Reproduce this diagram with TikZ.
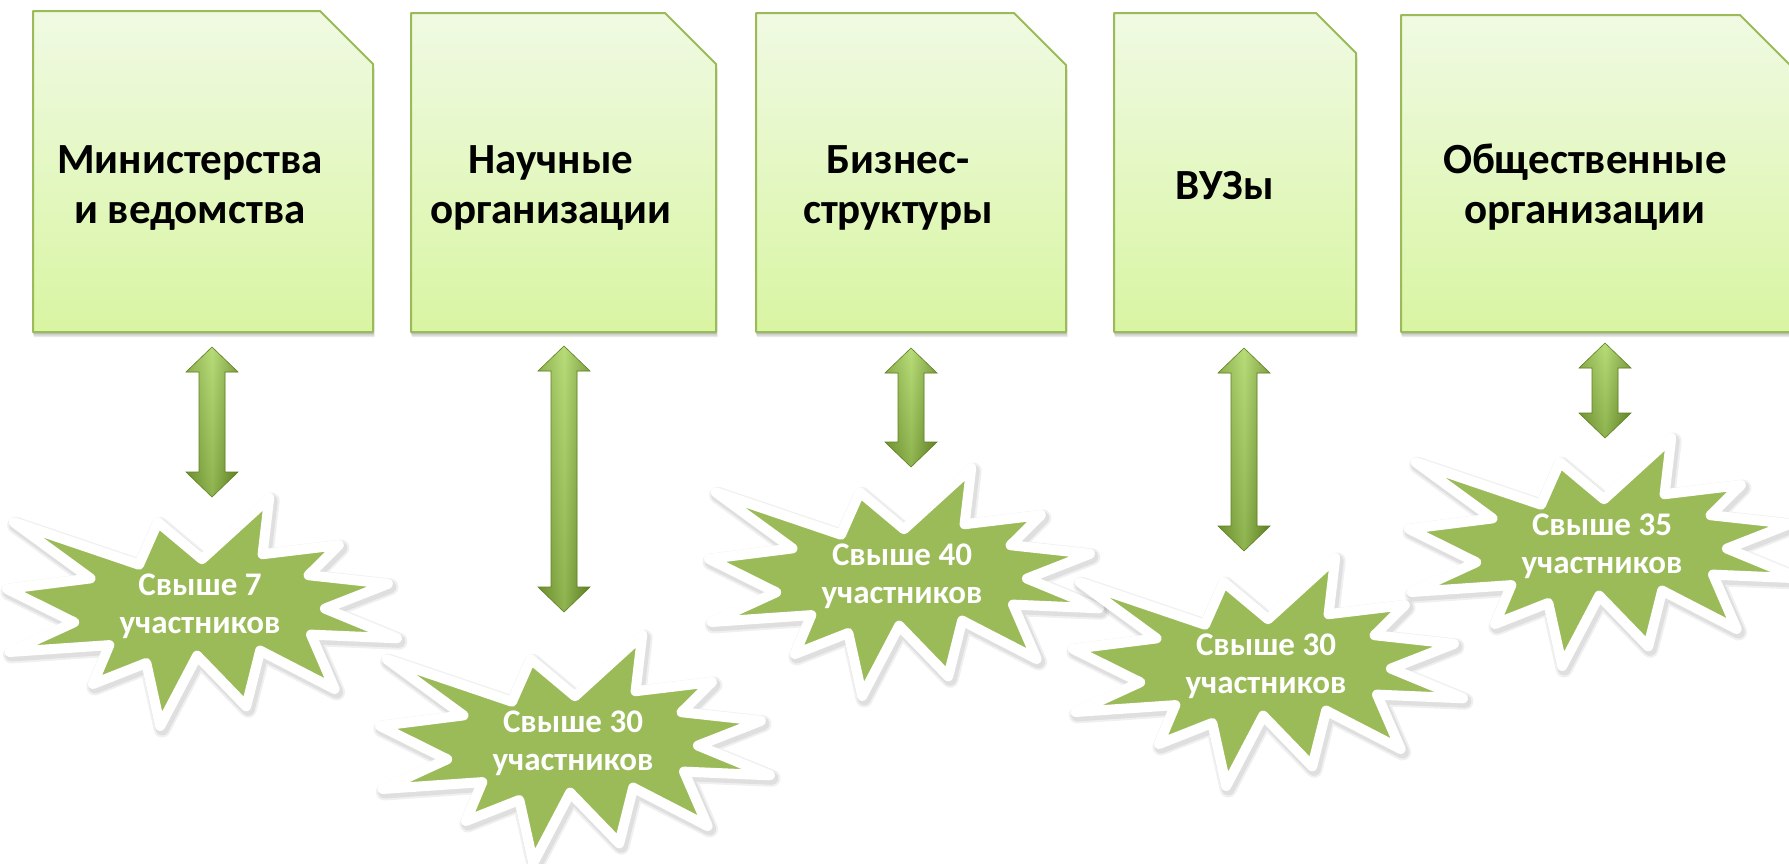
\documentclass[tikz,border=0pt]{standalone}
\usepackage{fontspec}
\setmainfont{Carlito}
\usetikzlibrary{calc}
\definecolor{starg}{HTML}{9BBB59}
\definecolor{boxline}{HTML}{9BBB59}
\definecolor{boxtop}{HTML}{F0FAE3}
\definecolor{boxbot}{HTML}{D8F5A2}
\definecolor{arrL}{HTML}{7FA536}
\definecolor{arrM}{HTML}{A9D65E}
\definecolor{arrR}{HTML}{6C9126}
\definecolor{arrE}{HTML}{5F8220}
\tikzset{
 boxtext/.style={font=\fontsize{43}{50}\selectfont\bfseries, text=black, inner sep=0pt, anchor=base},
 startext/.style={font=\fontsize{33}{38}\selectfont\bfseries, text=white, inner sep=0pt, anchor=base},
 boxshadow/.style={black, opacity=0.09},
}
\def\sealpts{(108.00,58.00) -- (145.22,0) -- (141.55,53.25) -- (183.80,44.57) -- (167.02,73.15) -- (210.97,81.37) -- (176.07,104.75) -- (216.00,132.90) -- (168.37,129.42) -- (181.45,180.95) -- (140.20,144.57) -- (132.47,197.37) -- (105.32,149.35) -- (84.85,216.00) -- (77.15,156.27) -- (47.62,176.17) -- (56.67,139.37) -- (1.35,145.87) -- (37.22,117.75) -- (0,86.15) -- (46.27,76.17) -- (3.70,22.95) -- (73.12,63.20) -- (83.52,22.95) -- cycle}
\newcommand{\sealstar}[2]{%
 \begin{scope}[shift={(#1+2,#2+3)},xscale=1.8056,yscale=1.0556]
  \draw[black,opacity=0.06,line width=17pt,line join=round] \sealpts;
  \draw[black,opacity=0.07,line width=13pt,line join=round] \sealpts;
 \end{scope}
 \begin{scope}[shift={(#1,#2)},xscale=1.8056,yscale=1.0556]
  \draw[white,fill=starg,line width=10pt,line join=round] \sealpts;
 \end{scope}}
\def\arrowpts{(\x1,\y1) -- (\x1+26pt,\y1-25pt) -- (\x1+13pt,\y1-25pt) -- (\x1+13pt,\y2+25pt) -- (\x1+26pt,\y2+25pt) -- (\x1,\y2) -- (\x1-26pt,\y2+25pt) -- (\x1-13pt,\y2+25pt) -- (\x1-13pt,\y1-25pt) -- (\x1-26pt,\y1-25pt) -- cycle}
\newcommand{\dblarrow}[2]{%
 \fill[black,opacity=0.12,xshift=2pt,yshift=-2pt] let \p1=(#1),\p2=(#2) in \arrowpts;
 \fill[black,opacity=0.08,xshift=4pt,yshift=-4pt] let \p1=(#1),\p2=(#2) in \arrowpts;
 \shade[left color=arrL,right color=arrR,middle color=arrM] let \p1=(#1),\p2=(#2) in \arrowpts;
 \shade[top color=white,bottom color=black,opacity=0.16] let \p1=(#1),\p2=(#2) in \arrowpts;
 \draw[arrE,line width=0.6pt] let \p1=(#1),\p2=(#2) in \arrowpts;}
\newcommand{\snipbox}[5]{%
 \fill[boxshadow] (#1,#2+2) -- (#3-#5,#2+2) -- (#3+0.5,#2+#5+2) -- (#3+0.5,#4+2) -- (#1,#4+2) -- cycle;
 \fill[boxshadow] (#1,#2+3.5) -- (#3-#5,#2+3.5) -- (#3+1,#2+#5+3.5) -- (#3+1,#4+3.5) -- (#1,#4+3.5) -- cycle;
 \fill[boxshadow] (#1+1,#2+5) -- (#3-#5,#2+5) -- (#3+1.5,#2+#5+5) -- (#3+1.5,#4+5) -- (#1+1,#4+5) -- cycle;
 \shade[top color=boxtop,bottom color=boxbot] (#1,#2) -- (#3-#5,#2) -- (#3,#2+#5) -- (#3,#4) -- (#1,#4) -- cycle;
 \draw[boxline,line width=2pt,line join=round] (#1,#2) -- (#3-#5,#2) -- (#3,#2+#5) -- (#3,#4) -- (#1,#4) -- cycle;}
\begin{document}
\begin{tikzpicture}[x=1pt,y=-1pt]
\fill[white] (0,0) rectangle (1789,863);
\useasboundingbox (0,0) rectangle (1789,863);
% boxes
\snipbox{33}{11}{373}{332}{53}
\snipbox{411}{13}{716}{332}{51}
\snipbox{756}{13}{1066}{332}{52}
\snipbox{1114}{13}{1356}{332}{40}
\snipbox{1401}{15}{1800}{332}{60}
\node[boxtext] (t1a) at (190,173) {Министерства};
\node[boxtext] (t1b) at (190,223) {и ведомства};
\node[boxtext] (t2a) at (551,173) {Научные};
\node[boxtext] (t2b) at (551,223) {организации};
\node[boxtext] (t3a) at (898,173) {Бизнес-};
\node[boxtext] (t3b) at (898,223) {структуры};
\node[boxtext] (t4a) at (1225,199) {ВУЗы};
\node[boxtext] (t5a) at (1585,173) {Общественные};
\node[boxtext] (t5b) at (1585,223) {организации};
% arrows
\coordinate (a1t) at (212,347); \coordinate (a1b) at (212,497);
\coordinate (a2t) at (564,346); \coordinate (a2b) at (564,612);
\coordinate (a3t) at (911,348); \coordinate (a3b) at (911,467);
\coordinate (a4t) at (1244,348); \coordinate (a4b) at (1244,551);
\coordinate (a5t) at (1605,343); \coordinate (a5b) at (1605,438);
\dblarrow{a1t}{a1b}
\dblarrow{a2t}{a2b}
\dblarrow{a3t}{a3b}
\dblarrow{a4t}{a4b}
\dblarrow{a5t}{a5b}
% stars
\sealstar{7}{498}
\sealstar{380}{635}
\sealstar{709}{468}
\sealstar{1073}{558}
\sealstar{1409}{438}
\node[startext] (s1a) at (200,595) {Свыше 7};
\node[startext] (s1b) at (200,633) {участников};
\node[startext] (s2a) at (573,732) {Свыше 30};
\node[startext] (s2b) at (573,770) {участников};
\node[startext] (s3a) at (902,565) {Свыше 40};
\node[startext] (s3b) at (902,603) {участников};
\node[startext] (s4a) at (1266,655) {Свыше 30};
\node[startext] (s4b) at (1266,693) {участников};
\node[startext] (s5a) at (1602,535) {Свыше 35};
\node[startext] (s5b) at (1602,573) {участников};
\end{tikzpicture}
\end{document}
